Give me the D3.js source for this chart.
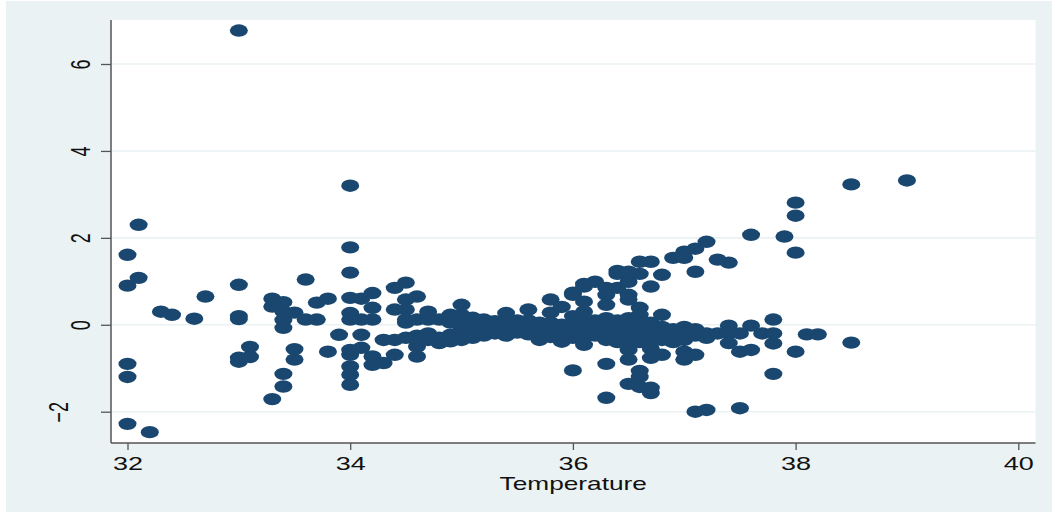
<!DOCTYPE html>
<html>
<head>
<meta charset="utf-8">
<script src="https://cdn.jsdelivr.net/npm/d3@7"></script>
<style>
  html, body { margin: 0; padding: 0; background: #ffffff; }
  svg { display: block; }
  text { font-family: Arial, "Liberation Sans", Helvetica, sans-serif; fill: #111; }
</style>
</head>
<body>
<svg id="chart" width="1052" height="512"></svg>
<script>
// Temperature values (x) and the residuals observed at each one (y)
const temperatures = [
  32.0, 32.1, 32.2, 32.3, 32.4, 32.6, 32.7,
  33.0, 33.1, 33.3, 33.4, 33.5, 33.6, 33.7, 33.8, 33.9,
  34.0, 34.1, 34.2, 34.3, 34.4, 34.5, 34.6, 34.7, 34.8, 34.9,
  35.0, 35.1, 35.2, 35.3, 35.4, 35.5, 35.6, 35.7, 35.8, 35.9,
  36.0, 36.1, 36.2, 36.3, 36.4, 36.5, 36.6, 36.7, 36.8, 36.9,
  37.0, 37.1, 37.2, 37.3, 37.4, 37.5, 37.6, 37.7, 37.8, 37.9,
  38.0, 38.1, 38.2, 38.5, 39.0
];
const residuals = [
  [1.61, 0.90, -0.90, -1.20, -2.28],
  [2.30, 1.08],
  [-2.47],
  [0.30],
  [0.23],
  [0.14],
  [0.65],
  [6.77, 0.92, 0.20, 0.13, -0.76, -0.85],
  [-0.51, -0.74],
  [0.60, 0.42, -1.71],
  [0.52, 0.30, 0.11, -0.07, -1.13, -1.42],
  [0.28, -0.56, -0.80],
  [1.04, 0.12],
  [0.51, 0.12],
  [0.60, -0.62],
  [-0.23],
  [3.20, 1.78, 1.20, 0.62, 0.27, 0.12, -0.58, -0.69, -0.96, -1.15, -1.38],
  [0.60, 0.12, -0.23, -0.53],
  [0.73, 0.39, 0.12, -0.73, -0.92],
  [-0.35, -0.88],
  [0.85, 0.35, -0.35, -0.69],
  [0.97, 0.58, 0.35, 0.12, 0.05, -0.30],
  [0.65, 0.12, -0.25, -0.50, -0.73],
  [0.30, 0.12, -0.20, -0.35],
  [0.12, -0.30, -0.42],
  [0.23, 0.05, -0.23, -0.38],
  [0.46, 0.23, 0.10, -0.10, -0.35],
  [0.16, 0.02, -0.18, -0.30],
  [0.12, -0.05, -0.25],
  [0.08, -0.02, -0.20],
  [0.27, 0.05, -0.12, -0.25],
  [0.10, -0.05, -0.18],
  [0.35, 0.10, -0.08, -0.22],
  [0.05, -0.15, -0.35],
  [0.58, 0.28, 0.05, -0.10, -0.28],
  [0.41, 0.00, -0.20, -0.39],
  [0.74, 0.69, 0.20, 0.00, -0.15, -0.30, -1.05],
  [0.94, 0.88, 0.53, 0.30, 0.05, -0.12, -0.30, -0.46],
  [0.99, 0.10, -0.05, -0.25],
  [0.85, 0.69, 0.46, 0.15, -0.05, -0.20, -0.35, -0.90, -1.68],
  [1.24, 1.17, 0.85, 0.10, -0.05, -0.20, -0.40],
  [1.22, 0.99, 0.69, 0.58, 0.15, 0.00, -0.15, -0.30, -0.45, -0.58, -0.80, -1.36],
  [1.45, 1.17, 0.39, 0.23, 0.05, -0.10, -0.25, -0.40, -1.06, -1.20, -1.43],
  [1.45, 0.88, 0.05, -0.10, -0.25, -0.40, -0.55, -0.76, -1.45, -1.57],
  [1.15, 0.23, -0.05, -0.20, -0.35, -0.69],
  [1.54, -0.10, -0.25, -0.40],
  [1.68, 1.54, -0.05, -0.20, -0.35, -0.62, -0.80],
  [1.75, 1.22, -0.10, -0.25, -0.69, -2.00],
  [1.91, -0.20, -0.30, -1.96],
  [1.50, -0.20],
  [1.43, -0.02, -0.20, -0.42],
  [-0.20, -0.62, -1.92],
  [2.07, -0.02, -0.58],
  [-0.20],
  [0.12, -0.20, -0.43, -1.13],
  [2.03],
  [2.81, 2.51, 1.66, -0.62],
  [-0.22],
  [-0.22],
  [3.23, -0.41],
  [3.32]
];
const xTicks = [32, 34, 36, 38, 40];
const yTicks = [-2, 0, 2, 4, 6];
const xTitle = "Temperature";

// One record per observation
const points = temperatures.flatMap((t, i) => residuals[i].map(r => ({ t, r })));

const W = 1052, H = 512;
const plot = { left: 111, right: 1035.5, top: 20, bottom: 443 };
const navy = "#1a476f";
const bg = "#eaf2f3";
const stretch = 1.5;   // labels are drawn wide

const x = d3.scaleLinear().domain([32, 40]).range([127.5, 1018.3]);
const y = d3.scaleLinear().domain([-2, 6]).range([411.7, 64]);

const svg = d3.select("#chart");

// graph background and plot region
svg.append("rect").attr("x", 6).attr("y", 1).attr("width", W - 6).attr("height", H - 1).attr("fill", bg);
svg.append("rect")
  .attr("x", plot.left).attr("y", plot.top)
  .attr("width", plot.right - plot.left).attr("height", plot.bottom - plot.top)
  .attr("fill", "#ffffff");

// horizontal grid lines
svg.append("g").selectAll("line").data(yTicks).join("line")
  .attr("x1", plot.left).attr("x2", plot.right)
  .attr("y1", d => y(d)).attr("y2", d => y(d))
  .attr("stroke", bg).attr("stroke-width", 1.6);

// markers
svg.append("g").selectAll("ellipse").data(points).join("ellipse")
  .attr("cx", d => x(d.t)).attr("cy", d => y(d.r))
  .attr("rx", 9).attr("ry", 6.2)
  .attr("fill", navy);

// y axis
const yAxis = svg.append("g").attr("transform", `translate(${plot.left},0)`)
  .call(d3.axisLeft(y).tickValues(yTicks).tickSize(10).tickFormat(d3.format("d")));
yAxis.select(".domain").remove();
yAxis.selectAll(".tick line").attr("stroke", "#555").attr("stroke-width", 1.3);
yAxis.selectAll(".tick text")
  .attr("x", null).attr("dy", null)
  .attr("text-anchor", "middle")
  .attr("font-size", 18).attr("fill", "#111")
  .attr("transform", d => `translate(${d < 0 ? -43 : -21},0) scale(${stretch},1) rotate(-90)`);

// x axis
const xAxis = svg.append("g").attr("transform", `translate(0,${plot.bottom})`)
  .call(d3.axisBottom(x).tickValues(xTicks).tickSize(7).tickFormat(d3.format("d")));
xAxis.select(".domain").remove();
xAxis.selectAll(".tick line").attr("stroke", "#555").attr("stroke-width", 1.3);
xAxis.selectAll(".tick text")
  .attr("y", 27.5).attr("dy", null)
  .attr("font-size", 18).attr("fill", "#111")
  .attr("transform", `scale(${stretch},1)`);

// axis lines
svg.append("line")
  .attr("x1", plot.left).attr("x2", plot.left)
  .attr("y1", plot.top).attr("y2", plot.bottom)
  .attr("stroke", "#555").attr("stroke-width", 1.5);
svg.append("line")
  .attr("x1", plot.left).attr("x2", plot.right)
  .attr("y1", plot.bottom).attr("y2", plot.bottom)
  .attr("stroke", "#555").attr("stroke-width", 1.5);

// x axis title
svg.append("text")
  .attr("transform", `translate(${(plot.left + plot.right) / 2},490) scale(${stretch},1)`)
  .attr("text-anchor", "middle")
  .attr("font-size", 17.5)
  .text(xTitle);
</script>
</body>
</html>
